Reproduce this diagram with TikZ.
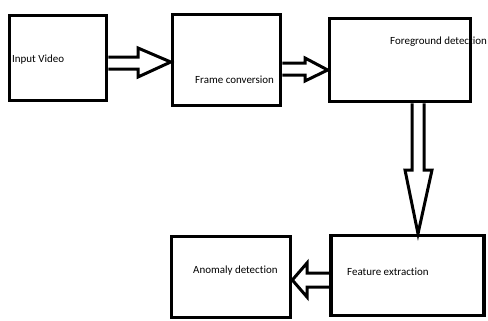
\documentclass[tikz,border=0pt]{standalone}
\usepackage{fontspec}
\setmainfont[Ligatures=CommonOff]{Carlito}
\tikzstyle{block} = [rectangle, draw=black, line width=3.6bp, inner sep=0pt]
\tikzstyle{hollow} = [draw=black, line width=3bp, line join=miter]
\tikzstyle{lbl} = [anchor=west, inner sep=0pt, font=\fontsize{11}{13}\selectfont]

\begin{document}
\begin{tikzpicture}[x=1bp, y=1bp]
    \useasboundingbox (0,0) rectangle (488,320);

    \node (in0) [block, minimum width=97bp, minimum height=85bp] at (58,262) {};
    \node (frame) [block, minimum width=108bp, minimum height=91bp] at (226.5,260) {};
    \node (fg) [block, minimum width=141bp, minimum height=83bp] at (400,260) {};
    \node (feat) [block, minimum width=153bp, minimum height=80bp] at (407.5,44.5) {};
    \node (anom) [block, minimum width=119bp, minimum height=81bp] at (231,43) {};

    \node (t0) [lbl] at (12,260) {Input Video};
    \node (t1) [lbl] at (195,240) {Frame conversion};
    \node (t2) [lbl] at (390,278) {Foreground detection};
    \node (t3) [lbl] at (347,48) {Feature extraction};
    \node (t4) [lbl] at (193,49) {Anomaly detection};

    \draw [hollow] (in0.east |- 0,263) -- (138,263) -- (138,272)
        -- (frame.west |- 0,258) -- (138,243) -- (138,251) -- (in0.east |- 0,251);
    \draw [hollow] (frame.east |- 0,257) -- (305,257) -- (305,262)
        -- (fg.west |- 0,250) -- (305,239) -- (305,245) -- (frame.east |- 0,245);
    \draw [hollow] (412,0 |- fg.south) -- (412,150) -- (405,150)
        -- (418,0 |- feat.north) -- (432,150) -- (424,150) -- (424,0 |- fg.south);
    \draw [hollow] (feat.west |- 0,47) -- (307,47) -- (307,57)
        -- (anom.east |- 0,40) -- (307,23) -- (307,33) -- (feat.west |- 0,33);
\end{tikzpicture}
\end{document}
